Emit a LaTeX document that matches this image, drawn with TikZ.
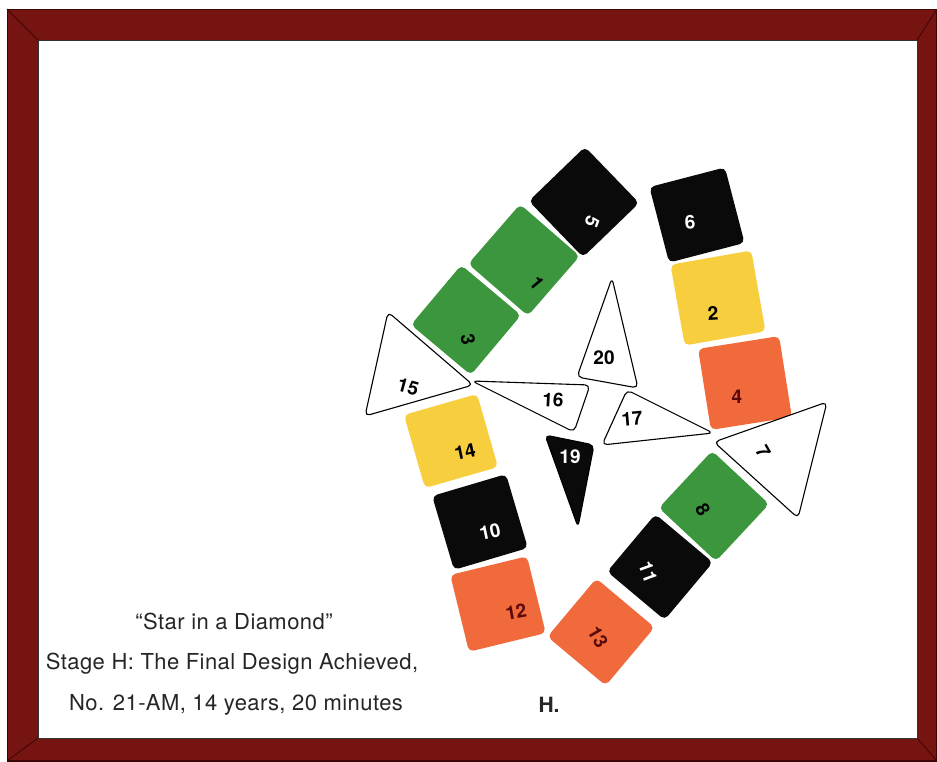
\documentclass[tikz,border=0pt]{standalone}
\usepackage{fontspec}
\setmainfont{TeX Gyre Heros}
\newfontfamily\capfont[LetterSpace=2]{TeX Gyre Heros}
\definecolor{framered}{RGB}{118,20,17}
\definecolor{framedark}{RGB}{60,6,6}
\definecolor{tgreen}{RGB}{60,150,62}
\definecolor{tblack}{RGB}{10,10,10}
\definecolor{tyellow}{RGB}{246,206,62}
\definecolor{torange}{RGB}{240,106,60}
\definecolor{numred}{RGB}{90,10,10}
\tikzset{
  tile/.style={draw=none, minimum size=#1, rounded corners=5pt, inner sep=0pt},
  tri/.style={draw=black, line width=1.1pt, fill=white, rounded corners=5pt, line join=round},
  lab/.style={font=\bfseries\fontsize{19}{19}\selectfont, inner sep=0pt},
  captext/.style={font=\capfont\fontsize{22}{22}\selectfont, inner sep=0pt, text=black!85}
}
\begin{document}
\begin{tikzpicture}[x=1pt,y=-1pt]
\useasboundingbox (0,0) rectangle (937,761);
% frame
\fill[framered] (7,9) rectangle (937,761);
\draw[framedark, line width=1.4pt] (7.7,9.7) rectangle (937,761);
\draw[framedark, line width=0.8pt] (7,9) -- (38,40) (937,9) -- (917,40) (7,761) -- (38,738) (937,761) -- (917,738);
\fill[white] (38,40) rectangle (917,738);
\draw[black!80, line width=1pt] (38,40) rectangle (917,738);
% square tiles
\node[tile=78, fill=tblack,  rotate=-46] (t5)  at (584,202) {};
\node[tile=79, fill=tgreen,  rotate=-41] (t1)  at (524,260) {};
\node[tile=78, fill=tgreen,  rotate=-40] (t3)  at (466,320) {};
\node[tile=78, fill=tblack,  rotate=14.6] (t6) at (697,215) {};
\node[tile=82, fill=tyellow, rotate=10]  (t2)  at (718,298) {};
\node[tile=82, fill=torange, rotate=9]   (t4)  at (745,383) {};
\node[tile=76, fill=tyellow, rotate=16]  (t14) at (451,441) {};
\node[tile=77, fill=tblack,  rotate=16.5] (t10) at (480,522) {};
\node[tile=79, fill=torange, rotate=13.7] (t12) at (498,604) {};
\node[tile=78, fill=tgreen,  rotate=-43] (t8)  at (714,506) {};
\node[tile=75, fill=tblack,  rotate=-40] (t11) at (660,567) {};
\node[tile=76, fill=torange, rotate=-40] (t13) at (601,632) {};
% triangles
\coordinate (a15) at (388,312); \coordinate (b15) at (473,385); \coordinate (c15) at (365,416);
\coordinate (a20) at (612,278); \coordinate (b20) at (577,377); \coordinate (c20) at (638,388);
\coordinate (a16) at (472,381); \coordinate (b16) at (590,385); \coordinate (c16) at (574,432);
\coordinate (a17) at (627,390); \coordinate (b17) at (602,445); \coordinate (c17) at (713,433);
\coordinate (a19) at (545,435); \coordinate (b19) at (594,445); \coordinate (c19) at (578,527);
\coordinate (a7) at (827,402);  \coordinate (b7) at (714,442);  \coordinate (c7) at (798,518);
\draw[tri] (a15) -- (b15) -- (c15) -- cycle;
\draw[tri] (a20) -- (b20) -- (c20) -- cycle;
\draw[tri] (a16) -- (b16) -- (c16) -- cycle;
\draw[tri] (a17) -- (b17) -- (c17) -- cycle;
\draw[tri, fill=tblack] (a19) -- (b19) -- (c19) -- cycle;
\draw[tri] (a7) -- (b7) -- (c7) -- cycle;
% labels
\node[lab, text=white, rotate=-110] (l5) at (592,222) {5};
\node[lab, text=black, rotate=-50]  (l1) at (537,283) {1};
\node[lab, text=black, rotate=-80]  (l3) at (468,340) {3};
\node[lab, text=white, rotate=5]    (l6) at (690,222) {6};
\node[lab, text=black, rotate=3]    (l2) at (713,313) {2};
\node[lab, text=numred, rotate=0]   (l4) at (737,397) {4};
\node[lab, text=black, rotate=-15]  (l15) at (408,387) {15};
\node[lab, text=black]              (l20) at (604,358) {20};
\node[lab, text=black, rotate=-3]   (l16) at (553,400) {16};
\node[lab, text=black, rotate=5]    (l17) at (632,419) {17};
\node[lab, text=white]              (l19) at (570,457) {19};
\node[lab, text=black, rotate=-60]  (l7) at (763,452) {7};
\node[lab, text=black, rotate=-60]  (l8) at (703,510) {8};
\node[lab, text=white, rotate=-70]  (l11) at (648,572) {11};
\node[lab, text=numred, rotate=-60] (l13) at (598,637) {13};
\node[lab, text=numred, rotate=10]  (l12) at (516,612) {12};
\node[lab, text=white, rotate=12]   (l10) at (490,532) {10};
\node[lab, text=black, rotate=12]   (l14) at (465,452) {14};
% captions
\node[captext] (c1) at (234,621) {“Star in a Diamond”};
\node[captext] (c2) at (232,664) {Stage H: The Final Design Achieved,};
\node[captext] (c3) at (236,705) {No. 21-AM, 14 years, 20 minutes};
\node[captext, font=\bfseries\fontsize{21}{21}\selectfont] (ch) at (549,705) {H.};
\end{tikzpicture}
\end{document}
